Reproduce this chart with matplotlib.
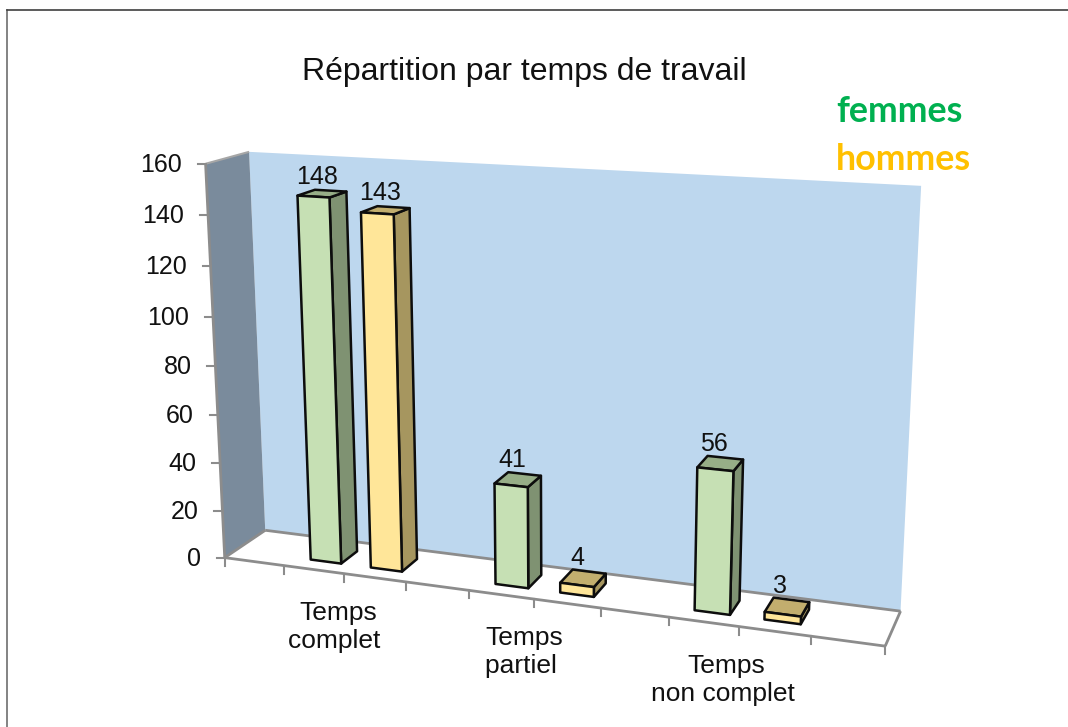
#!/usr/bin/env python3

import numpy as np
import matplotlib
matplotlib.use("Agg")
import matplotlib.pyplot as plt

plt.rcParams["font.family"] = ["Liberation Sans", "DejaVu Sans"]

# the chart has 10 slots on the floor, the bars sit in slots 1,2 / 4,5 / 7,8
# (second lines carry a trailing space, the original labels sit off-centre)
CATEGORIES = ["Temps\ncomplet ", "Temps\npartiel ", "Temps\nnon complet "]
FEMMES = [148, 41, 56]
HOMMES = [143, 4, 3]
Y_TICKS = [0, 20, 40, 60, 80, 100, 120, 140, 160]
N_SLOTS = 10
Y_MAX = 160

W, H = 1068, 727

# where the box of the 3D chart lands on the page: (slot, value, depth) -> pixel
ANCHORS = [
    ((0, 0, 0), (225, 557)),
    ((10, 0, 0), (885, 647)),
    ((0, 160, 0), (206, 163)),
    ((0, 0, 1), (265, 531)),
    ((10, 0, 1), (901, 610)),
    ((0, 160, 1), (249, 152)),
    ((10, 160, 1), (921, 186)),
    ((2, 0, 0), (344, 573)),
    ((5, 0, 0), (534, 599)),
    ((8, 0, 0), (739, 627)),
    ((0, 80, 0), (215, 367)),
]


def fit_projection(anchors):
    rows = []
    for (x, y, z), (u, v) in anchors:
        p = [x / N_SLOTS, y / Y_MAX, z, 1]
        rows.append(p + [0, 0, 0, 0] + [-u / 1000 * c for c in p])
        rows.append([0, 0, 0, 0] + p + [-v / 1000 * c for c in p])
    _, _, vt = np.linalg.svd(np.array(rows))
    return vt[-1].reshape(3, 4)


PROJ = fit_projection(ANCHORS)


def project(x, y, z):
    q = PROJ @ np.array([x / N_SLOTS, y / Y_MAX, z, 1])
    return q[0] / q[2] * 1000, q[1] / q[2] * 1000


def face(ax, corners, color, edge="none", lw=0, zorder=1):
    pts = [project(*c) for c in corners]
    ax.fill([p[0] for p in pts], [p[1] for p in pts], facecolor=color,
            edgecolor=edge, linewidth=lw, joinstyle="round", zorder=zorder)


def seg(ax, a, b, color="#8c8c8c", lw=2.0, zorder=2):
    pa, pb = project(*a), project(*b)
    ax.plot([pa[0], pb[0]], [pa[1], pb[1]], color=color, lw=lw, zorder=zorder,
            solid_capstyle="butt")


def bar(ax, slot, value, colors, zorder):
    x0, x1 = slot + 0.27, slot + 0.78
    z0, z1 = 0.28, 0.71
    front, side, top = colors
    edge = "#0d0d0d"
    face(ax, [(x1, 0, z0), (x1, 0, z1), (x1, value, z1), (x1, value, z0)], side, edge, 1.8, zorder)
    face(ax, [(x0, value, z0), (x1, value, z0), (x1, value, z1), (x0, value, z1)], top, edge, 1.8, zorder)
    face(ax, [(x0, 0, z0), (x1, 0, z0), (x1, value, z0), (x0, value, z0)], front, edge, 1.8, zorder)
    u = project((x0 + x1) / 2, value, z0)[0]
    v = project((x0 + x1) / 2, value, z1)[1]
    ax.text(u + 4 - 0.8 * slot, v - 2, str(value), ha="center", va="bottom", fontsize=18,
            color="#111111", zorder=20)


fig = plt.figure(figsize=(W / 100, H / 100), dpi=100)
ax = fig.add_axes([0, 0, 1, 1])
ax.set_xlim(0, W)
ax.set_ylim(H, 0)
ax.axis("off")

# outer frame of the chart area, only the left and top edges are in the crop
ax.plot([7, 7], [H, 10], color="#6e6e6e", lw=1.2)
ax.plot([7, W], [10, 10], color="#404040", lw=1.2)

# walls and floor
face(ax, [(0, 0, 1), (10, 0, 1), (10, 160, 1), (0, 160, 1)], "#bdd7ee")
face(ax, [(0, 0, 0), (0, 0, 1), (0, 160, 1), (0, 160, 0)], "#7a8b9c")
face(ax, [(0, 0, 0), (10, 0, 0), (10, 0, 1), (0, 0, 1)], "#ffffff")

seg(ax, (0, 0, 0), (10, 0, 0))
seg(ax, (0, 0, 0), (0, 160, 0))
seg(ax, (0, 0, 0), (0, 0, 1))
seg(ax, (0, 0, 1), (10, 0, 1))
seg(ax, (10, 0, 0), (10, 0, 1))
seg(ax, (0, 160, 0), (0, 160, 1), color="#a6a6a6", lw=1.5)

for s in range(N_SLOTS + 1):
    u, v = project(s, 0, 0)
    ax.plot([u, u], [v, v + 8], color="#8c8c8c", lw=1.5, zorder=2)

for t in Y_TICKS:
    u, v = project(0, t, 0)
    ax.plot([u - 8, u], [v, v], color="#8c8c8c", lw=1.5, zorder=2)
    ax.text(u - 24, v + 1, str(t), ha="right", va="center", fontsize=18, color="#111111")

for i, label in enumerate(CATEGORIES):
    slot = 3 * i + 2
    u, v = project(slot, 0, 0)
    ax.text(u - 6 - 3.5 * i, v + 27, label, ha="center", va="top", fontsize=19,
            color="#111111", linespacing=1.22)

GREEN = ("#c6e0b4", "#7f9272", "#97ae87")
YELLOW = ("#ffe699", "#a6965f", "#c2ae6e")
for i in range(len(CATEGORIES)):
    bar(ax, 3 * i + 1, FEMMES[i], GREEN, 5 + i * 2)
    bar(ax, 3 * i + 2, HOMMES[i], YELLOW, 6 + i * 2)

ax.text(524, 72, "Répartition par temps de travail", ha="center", va="center",
        fontsize=23, color="#111111")
ax.text(836, 112, "femmes", ha="left", va="center", fontsize=25.8, fontweight="bold",
        family=["Lato", "DejaVu Sans"], color="#00b050")
ax.text(836, 160, "hommes", ha="left", va="center", fontsize=25.8, fontweight="bold",
        family=["Lato", "DejaVu Sans"], color="#ffc000")

fig.savefig("out.png", dpi=100)
